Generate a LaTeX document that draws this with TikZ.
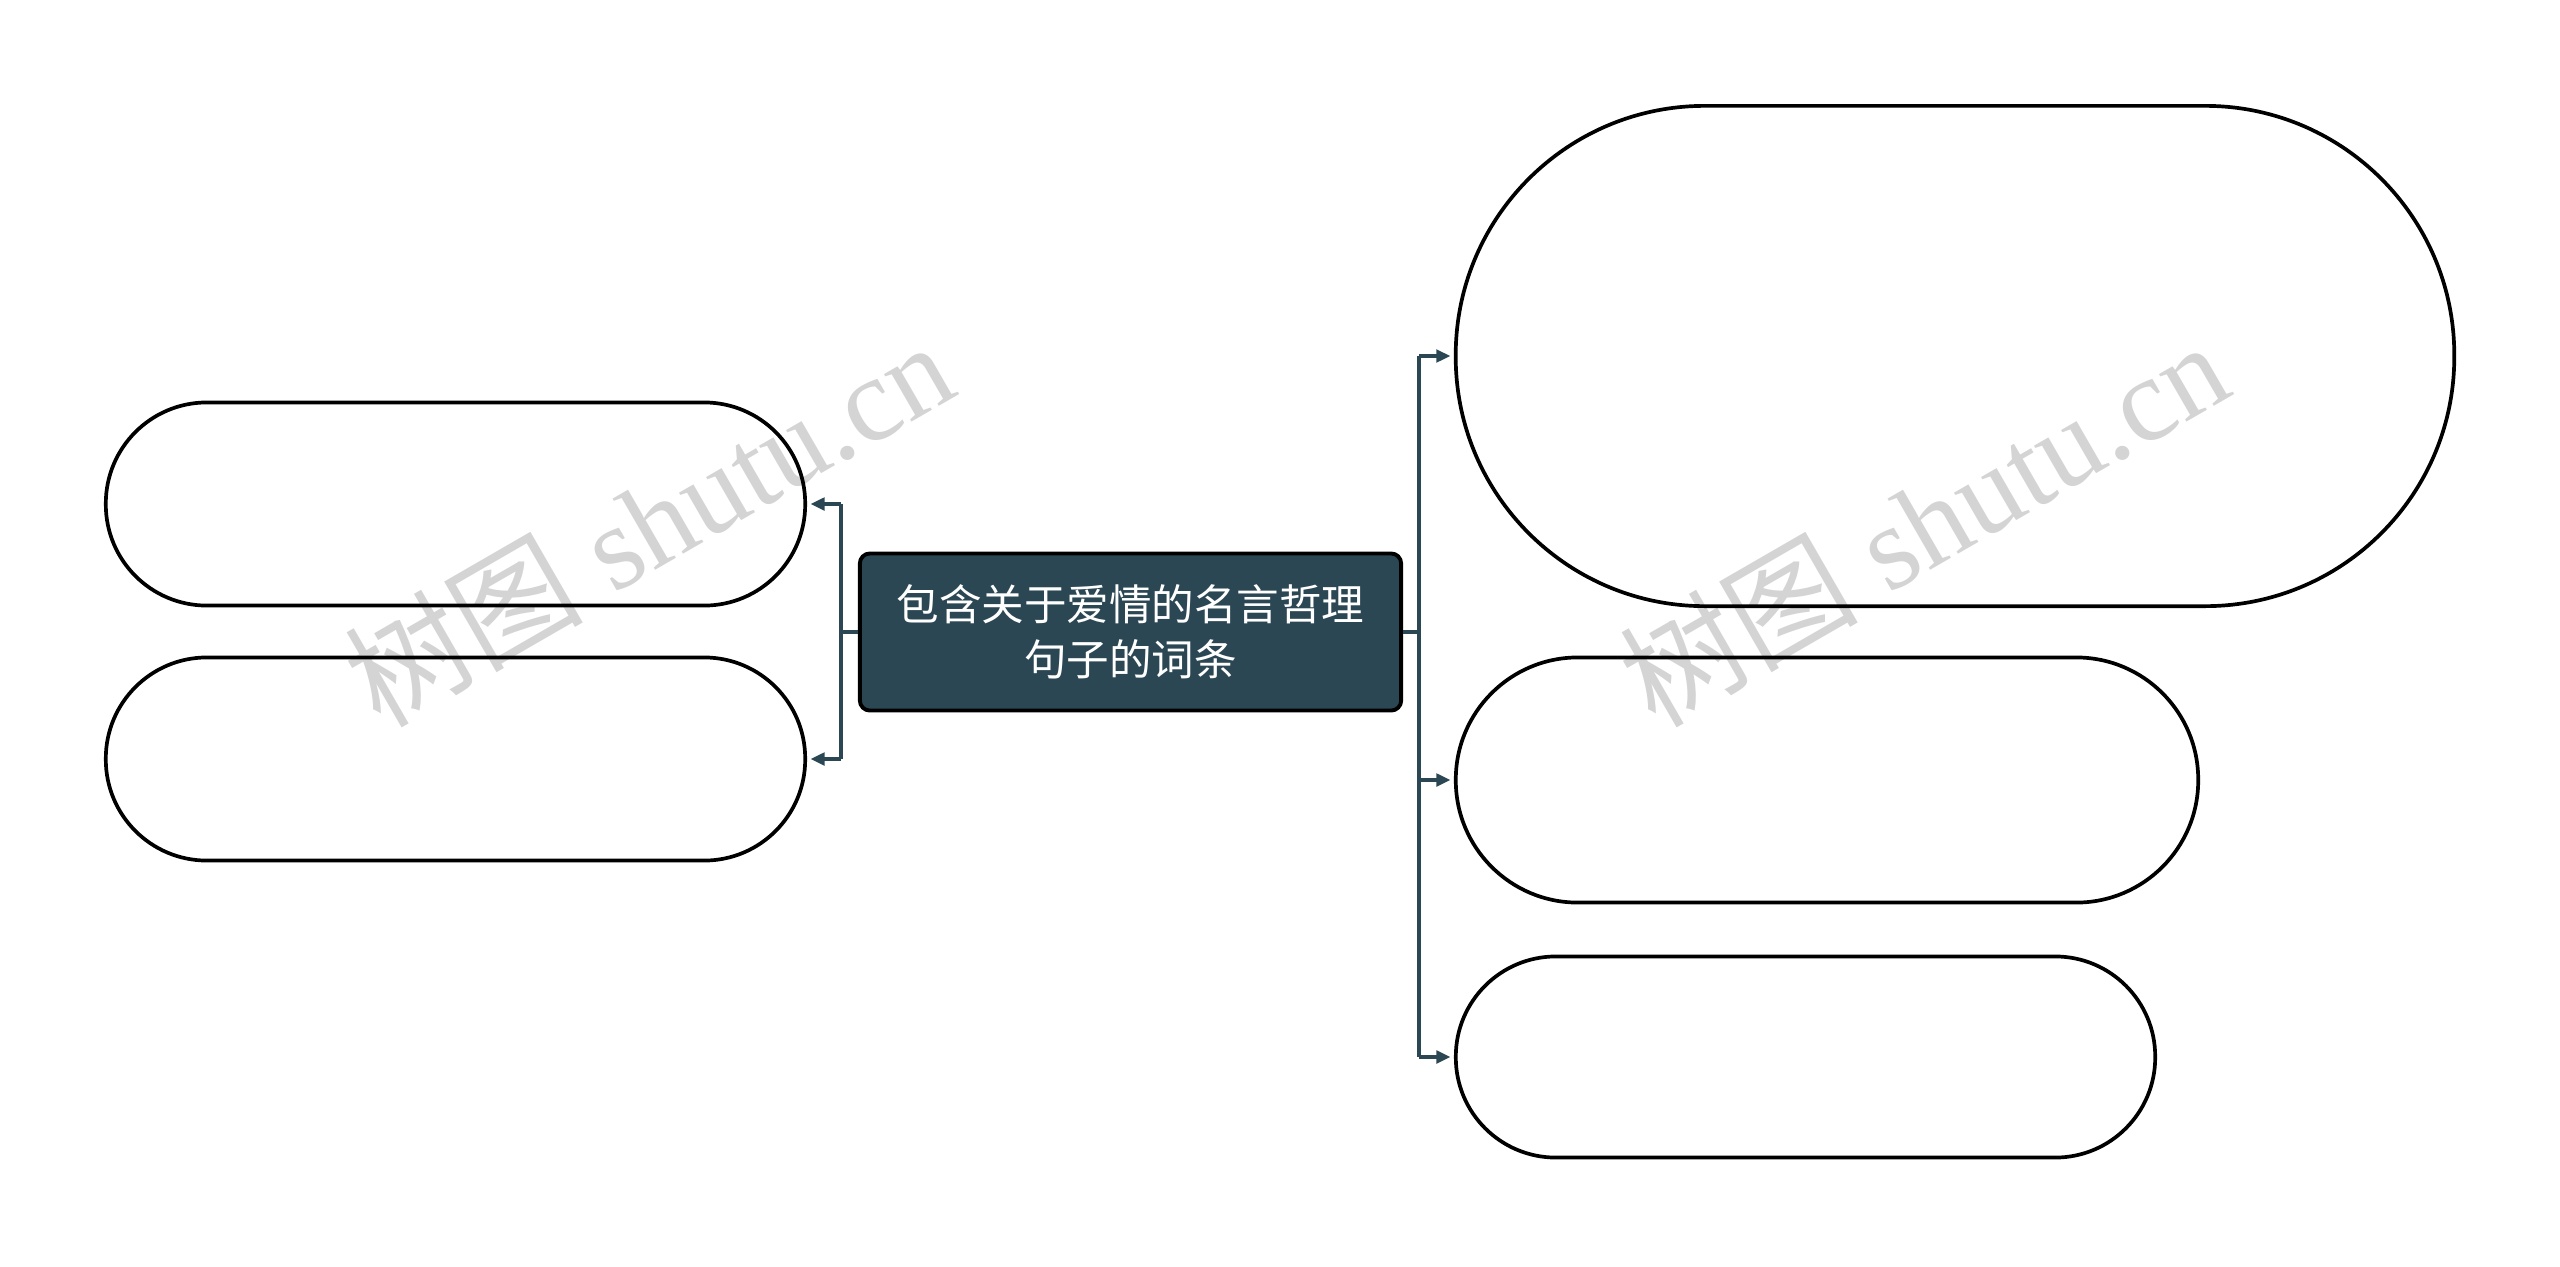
\documentclass[tikz,border=0pt]{standalone}
\usepackage{fontspec}
\setmainfont{Liberation Serif}
\newfontfamily\cjk{Noto Sans CJK SC}
\usetikzlibrary{arrows.meta}

\definecolor{slate}{HTML}{2B4754}
\definecolor{wmgray}{HTML}{D4D4D4}

\tikzset{
	leaf/.style={draw=black, line width=1.05pt, rounded corners=#1, inner sep=0pt},
	rootbox/.style={draw=black, fill=slate, line width=1.1pt, rounded corners=0.1cm,
		text=white, align=center, inner sep=0pt,
		font=\cjk\fontsize{12.1}{15.6}\selectfont},
	link/.style={draw=slate, line width=0.9pt},
	tip/.style={-{Triangle[length=4pt,width=3.6pt]}, shorten >=1pt},
	wm/.style={text=wmgray, rotate=30, font=\fontsize{34}{34}\selectfont}
}

\begin{document}
\begin{tikzpicture}[x=0.01cm,y=-0.01cm]
			\useasboundingbox (0,0) rectangle (2560,1266);

			% watermark
			\node[wm] (wm1) at (648,522) {{\cjk 树图} shutu.cn};
			\node[wm] (wm2) at (1923,522) {{\cjk 树图} shutu.cn};

			\node[rootbox, minimum width=5.41cm, minimum height=1.57cm] (root) at (1130.5,632) {包含关于爱情的名言哲理\\句子的词条};

			\node[leaf=1.01cm, minimum width=6.99cm, minimum height=2.03cm] (l1) at (455.5,504) {};
			\node[leaf=1.01cm, minimum width=6.99cm, minimum height=2.03cm] (l2) at (455.5,759) {};

			\node[leaf=2.49cm, minimum width=9.98cm, minimum height=5.0cm] (r1) at (1955,356) {};
			\node[leaf=1.22cm, minimum width=7.42cm, minimum height=2.45cm] (r2) at (1827,780) {};
			\node[leaf=1.0cm, minimum width=6.99cm, minimum height=2.01cm] (r3) at (1805.5,1057) {};

			\coordinate (ltrunk) at (841,632);
			\coordinate (rtrunk) at (1419,632);

			\draw[link] (root.west) -- (ltrunk);
			\draw[link] (ltrunk |- l1) -- (ltrunk |- l2);
			\foreach \n in {l1,l2}
				\draw[link,tip] (ltrunk |- \n) -- (\n.east);

			\draw[link] (root.east) -- (rtrunk);
			\draw[link] (rtrunk |- r1) -- (rtrunk |- r3);
			\foreach \n in {r1,r2,r3}
				\draw[link,tip] (rtrunk |- \n) -- (\n.west);
		\end{tikzpicture}
\end{document}
